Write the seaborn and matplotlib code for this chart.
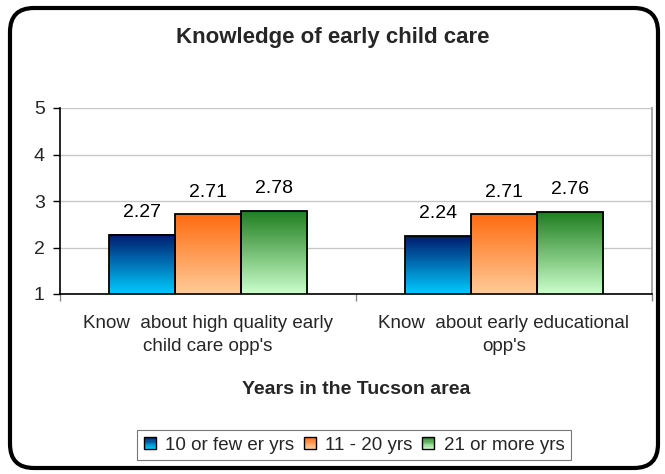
import numpy as np
import pandas as pd
import matplotlib
matplotlib.use("Agg")
import matplotlib.pyplot as plt
import seaborn as sns
from matplotlib.patches import FancyBboxPatch, Rectangle
from matplotlib.colors import LinearSegmentedColormap
from matplotlib.legend_handler import HandlerBase
from matplotlib.transforms import IdentityTransform

categories = ["Know  about high quality early\nchild care opp's", "Know  about early educational\nopp's"]
groups = ["10 or few er yrs", "11 - 20 yrs", "21 or more yrs"]
values_10 = [2.27, 2.24]
values_11 = [2.71, 2.71]
values_21 = [2.78, 2.76]
yticks = [1, 2, 3, 4, 5]

# gradient (top, bottom) colours per group
grad = {
    groups[0]: ("#001a6e", "#00ccff"),
    groups[1]: ("#ff6a10", "#ffcc99"),
    groups[2]: ("#1f7f1f", "#ccffcc"),
}

df = pd.DataFrame({
    "cat": categories * 3,
    "grp": [groups[0]] * 2 + [groups[1]] * 2 + [groups[2]] * 2,
    "val": values_10 + values_11 + values_21,
})

sns.set_theme(style="white")
plt.rcParams["font.family"] = ["Liberation Sans", "DejaVu Sans"]

fig = plt.figure(figsize=(6.65, 4.74), dpi=100)
ax = fig.add_axes([60 / 665, 1 - 294 / 474, 592 / 665, 186 / 474])

pal = {g: grad[g][1] for g in groups}
sns.barplot(data=df, x="cat", y="val", hue="grp", hue_order=groups, order=categories,
            palette=pal, width=0.67, ax=ax, legend=False, saturation=1)

ax.set_ylim(1, 5)
ax.set_xlim(-0.5, 1.5)

for gi, cont in enumerate(ax.containers):
    top, bot = grad[groups[gi]]
    cmap = LinearSegmentedColormap.from_list("g%d" % gi, [bot, top])
    for rect in cont.patches:
        x0 = rect.get_x()
        w = rect.get_width()
        h = rect.get_y() + rect.get_height()
        y0 = 1
        g = np.linspace(0, 1, 256).reshape(-1, 1)
        ax.imshow(g, cmap=cmap, origin="lower", aspect="auto",
                  extent=[x0, x0 + w, y0, h], zorder=2)
        rect.set_facecolor("none")
        rect.set_edgecolor("black")
        rect.set_linewidth(1.3)
        rect.set_zorder(3)
    ax.bar_label(cont, fmt="%.2f", padding=10, fontsize=14, color="black")

ax.set_ylim(1, 5)
ax.set_xlim(-0.5, 1.5)
ax.set_yticks(yticks)
ax.set_yticklabels([str(t) for t in yticks], fontsize=14)
ax.set_xticks([0, 1])
ax.set_xticklabels(categories, fontsize=13.5, linespacing=1.45)
ax.tick_params(axis="x", length=0, pad=15)
ax.tick_params(axis="y", length=5, width=1, color="black", direction="out", pad=6, left=True)
ax.set_xticks([-0.5, 0.5, 1.5], minor=True)
ax.tick_params(axis="x", which="minor", length=5, width=1, color="#888888", direction="out", bottom=True)
ax.yaxis.grid(True, color="#c8c8c8", linewidth=1)
ax.set_axisbelow(True)
ax.set_ylabel("")
ax.set_xlabel("Years in the Tucson area", fontsize=14, fontweight="bold")
ax.xaxis.set_label_coords(0.5, -0.47)
for s in ["left", "bottom"]:
    ax.spines[s].set_color("black")
    ax.spines[s].set_linewidth(1.2)
ax.spines["bottom"].set_zorder(4)
ax.spines["right"].set_color("#999999")
ax.spines["right"].set_linewidth(1.2)
ax.spines["top"].set_visible(False)
ax.set_facecolor("white")

fig.text(0.5, 1 - 43 / 474, "Knowledge of early child care", ha="center", va="baseline",
         fontsize=16, fontweight="bold")


class GradHandler(HandlerBase):
    def __init__(self, top, bot):
        super().__init__()
        self.top = matplotlib.colors.to_rgb(top)
        self.bot = matplotlib.colors.to_rgb(bot)

    def create_artists(self, legend, orig_handle, xdescent, ydescent, width, height, fontsize, trans):
        s = min(width, height)
        x0 = -xdescent + (width - s) / 2
        y0 = -ydescent + (height - s) / 2
        arts = []
        n = 10
        for i in range(n):
            t = i / (n - 1)
            c = tuple(self.bot[k] * (1 - t) + self.top[k] * t for k in range(3))
            arts.append(Rectangle((x0, y0 + s * i / n), s, s / n, facecolor=c,
                                  edgecolor="none", transform=trans))
        arts.append(Rectangle((x0, y0), s, s, facecolor="none", edgecolor="black",
                              linewidth=1.0, transform=trans))
        return arts


handles = [Rectangle((0, 0), 1, 1) for _ in groups]
hmap = {h: GradHandler(*grad[g]) for h, g in zip(handles, groups)}
leg = fig.legend(handles, groups, handler_map=hmap, loc="center", ncol=3,
                 bbox_to_anchor=(354 / 665, 1 - 445 / 474), frameon=True, fancybox=False,
                 edgecolor="#555555", fontsize=13.5, handlelength=0.65, handleheight=0.65,
                 handletextpad=0.5, columnspacing=0.5, borderpad=0.35, borderaxespad=0)
leg.get_frame().set_linewidth(0.8)

frame = FancyBboxPatch((10, 6), 648, 460, boxstyle="round,pad=0,rounding_size=24",
                       transform=IdentityTransform(), facecolor="none",
                       edgecolor="black", linewidth=3, zorder=10)
fig.patches.append(frame)

fig.savefig("out.png", dpi=100, facecolor="white")
